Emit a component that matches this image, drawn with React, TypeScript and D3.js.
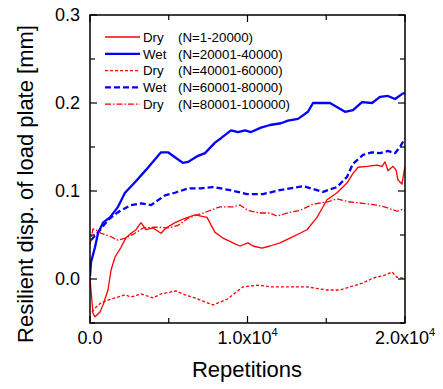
import React from "react";
import * as d3 from "d3";

// ---- data ----
const dry1X = [0, 190, 317, 635, 825, 1143, 1333, 1587, 1968, 2286, 2603, 2921, 3238, 3556, 4000, 4508, 4825, 5397, 6032, 6667, 7429, 7937, 8444, 9079, 9524, 10032, 10349, 10921, 11429, 12063, 12698, 13333, 13778, 14413, 15048, 15683, 16317, 16698, 17016, 17587, 18222, 18540, 18730, 18921, 19238, 19429, 19556, 19810, 19937, 20000];
const dry1Y = [0.001, -0.039, -0.043, -0.0375, -0.0295, -0.0125, 0.01, 0.025, 0.036, 0.047, 0.052, 0.056, 0.064, 0.056, 0.058, 0.052, 0.058, 0.064, 0.069, 0.073, 0.07, 0.053, 0.0465, 0.041, 0.0375, 0.041, 0.0375, 0.035, 0.0375, 0.041, 0.0465, 0.052, 0.056, 0.07, 0.09, 0.098, 0.109, 0.12, 0.127, 0.128, 0.1295, 0.128, 0.133, 0.123, 0.128, 0.124, 0.1125, 0.108, 0.1215, 0.128];

const wet2X = [0, 63, 317, 508, 825, 1270, 1778, 2222, 2857, 3556, 4508, 4952, 5460, 5905, 6222, 6857, 7302, 7937, 8317, 8952, 9397, 9841, 10222, 10857, 11429, 12127, 12571, 13206, 13841, 14159, 15238, 16190, 16698, 17270, 17905, 18413, 18921, 19365, 19873, 20000];
const wet2Y = [0.003, 0.019, 0.036, 0.052, 0.064, 0.07, 0.082, 0.098, 0.11, 0.124, 0.144, 0.144, 0.1375, 0.132, 0.133, 0.14, 0.143, 0.155, 0.16, 0.169, 0.167, 0.169, 0.167, 0.172, 0.175, 0.177, 0.18, 0.182, 0.19, 0.2, 0.2, 0.19, 0.192, 0.201, 0.2, 0.207, 0.208, 0.2045, 0.211, 0.211];

const dry3X = [127, 381, 698, 1143, 1587, 2222, 2603, 3238, 4000, 4508, 5460, 6032, 6667, 7302, 7810, 8698, 9714, 10667, 11556, 12508, 13778, 15048, 15873, 16508, 17333, 17968, 18730, 19175, 19492, 19873, 20000];
const dry3Y = [-0.0375, -0.032, -0.027, -0.024, -0.0215, -0.018, -0.0205, -0.017, -0.0215, -0.017, -0.0135, -0.018, -0.0215, -0.026, -0.0295, -0.023, -0.009, -0.007, -0.009, -0.009, -0.009, -0.0125, -0.0125, -0.009, -0.0045, 0.001, 0.0045, 0.008, 0.002, 0.001, 0.001];

const wet4X = [63, 508, 1143, 1778, 2603, 3238, 3873, 4762, 5397, 6222, 7048, 7810, 8889, 9968, 10984, 12063, 13524, 14794, 15683, 16317, 16698, 17333, 17905, 18413, 18921, 19365, 19683, 20000];
const wet4Y = [0.044, 0.053, 0.067, 0.076, 0.084, 0.086, 0.084, 0.095, 0.098, 0.103, 0.103, 0.1045, 0.101, 0.0965, 0.0965, 0.101, 0.1055, 0.099, 0.1045, 0.116, 0.131, 0.141, 0.144, 0.143, 0.1455, 0.143, 0.15, 0.16];

const dry5X = [0, 190, 381, 698, 1333, 1778, 2222, 2857, 3365, 4127, 4952, 5587, 6222, 6857, 7492, 8254, 9079, 9524, 10032, 10794, 11429, 11873, 12508, 13333, 14159, 15048, 15683, 16508, 17333, 18222, 18857, 19492, 19873, 20000];
const dry5Y = [0.039, 0.057, 0.056, 0.052, 0.048, 0.044, 0.0465, 0.052, 0.058, 0.059, 0.058, 0.061, 0.069, 0.073, 0.077, 0.082, 0.082, 0.084, 0.078, 0.075, 0.075, 0.0715, 0.075, 0.078, 0.085, 0.0875, 0.091, 0.0875, 0.086, 0.084, 0.081, 0.077, 0.0795, 0.078];

const seriesLabels = ["Dry", "Wet", "Dry", "Wet", "Dry"];
const seriesRanges = ["(N=1-20000)", "(N=20001-40000)", "(N=40001-60000)", "(N=60001-80000)", "(N=80001-100000)"];
const yTicks = [0.0, 0.1, 0.2, 0.3];
const yMinorTicks = [-0.05, 0.05, 0.15, 0.25];
const xTicks = [0, 10000, 20000];
const xMinorTicks = [5000, 15000];
const xTickLabels = [["0.0", ""], ["1.0x10", "4"], ["2.0x10", "4"]];

const series = [
  { xs: dry1X, ys: dry1Y, color: "#ff0000", width: 1.3, dash: "none" },
  { xs: wet2X, ys: wet2Y, color: "#0000ff", width: 2.3, dash: "none" },
  { xs: dry3X, ys: dry3Y, color: "#ff0000", width: 1.3, dash: "3,2" },
  { xs: wet4X, ys: wet4Y, color: "#0000ff", width: 2.3, dash: "6,3" },
  { xs: dry5X, ys: dry5Y, color: "#ff0000", width: 1.3, dash: "6,2,1.5,2" },
];

const W = 443, H = 389;
const L = 90, R = 405, T = 15, B = 323;
const FONT = "'Liberation Sans', Arial, sans-serif";

export default function App() {
  const x = d3.scaleLinear().domain([0, 20000]).range([L, R]);
  const y = d3.scaleLinear().domain([-0.05, 0.3]).range([B, T]);
  const line = d3.line<[number, number]>().x(d => x(d[0])).y(d => y(d[1]));
  const majorLen = 7, minorLen = 5;

  return (
    <svg width={W} height={H} style={{ position: "absolute", left: 0, top: 0 }} fontFamily={FONT}>
      <rect width={W} height={H} fill="#fff" />
      <defs>
        <clipPath id="plot"><rect x={L} y={T} width={R - L} height={B - T} /></clipPath>
      </defs>
      <g clipPath="url(#plot)">
        {series.map((s, i) => (
          <path key={i} d={line(s.xs.map((v, j) => [v, s.ys[j]] as [number, number])) || ""}
            fill="none" stroke={s.color} strokeWidth={s.width} strokeDasharray={s.dash}
            strokeLinejoin="round" />
        ))}
      </g>
      {/* frame */}
      <rect x={L} y={T} width={R - L} height={B - T} fill="none" stroke="#000" strokeWidth={1.5} />
      {/* y ticks */}
      {yTicks.map(t => (
        <g key={"y" + t}>
          <line x1={L} x2={L + majorLen} y1={y(t)} y2={y(t)} stroke="#000" strokeWidth={1.2} />
          <line x1={R} x2={R - majorLen} y1={y(t)} y2={y(t)} stroke="#000" strokeWidth={1.2} />
          <text x={L - 10} y={y(t)} dy="0.36em" textAnchor="end" fontSize={18} fill="#000">{t.toFixed(1)}</text>
        </g>
      ))}
      {yMinorTicks.map(t => (
        <g key={"ym" + t}>
          <line x1={L} x2={L + minorLen} y1={y(t)} y2={y(t)} stroke="#000" strokeWidth={1.2} />
          <line x1={R} x2={R - minorLen} y1={y(t)} y2={y(t)} stroke="#000" strokeWidth={1.2} />
        </g>
      ))}
      {/* x ticks */}
      {xTicks.map((t, i) => (
        <g key={"x" + t}>
          <line x1={x(t)} x2={x(t)} y1={B} y2={B - majorLen} stroke="#000" strokeWidth={1.2} />
          <line x1={x(t)} x2={x(t)} y1={T} y2={T + majorLen} stroke="#000" strokeWidth={1.2} />
          <text x={x(t)} y={344} textAnchor="middle" fontSize={18} fill="#000">
            {xTickLabels[i][0]}
            {xTickLabels[i][1] && <tspan fontSize={11} dy={-8}>{xTickLabels[i][1]}</tspan>}
          </text>
        </g>
      ))}
      {xMinorTicks.map(t => (
        <g key={"xm" + t}>
          <line x1={x(t)} x2={x(t)} y1={B} y2={B - minorLen} stroke="#000" strokeWidth={1.2} />
          <line x1={x(t)} x2={x(t)} y1={T} y2={T + minorLen} stroke="#000" strokeWidth={1.2} />
        </g>
      ))}
      {/* axis titles */}
      <text x={247} y={377} textAnchor="middle" fontSize={22} fill="#000">Repetitions</text>
      <text transform={`translate(33,184) rotate(-90)`} textAnchor="middle" fontSize={22} fill="#000">
        Resilient disp. of load plate [mm]
      </text>
      {/* legend */}
      {series.map((s, i) => {
        const cy = 37 + i * 16.8;
        return (
          <g key={"lg" + i}>
            <line x1={105} x2={140} y1={cy} y2={cy} stroke={s.color} strokeWidth={s.width} strokeDasharray={s.dash} />
            <text x={143} y={cy + 4.7} fontSize={13.3} fill="#000">{seriesLabels[i]}</text>
            <text x={178} y={cy + 4.7} fontSize={13.3} fill="#000">{seriesRanges[i]}</text>
          </g>
        );
      })}
    </svg>
  );
}
